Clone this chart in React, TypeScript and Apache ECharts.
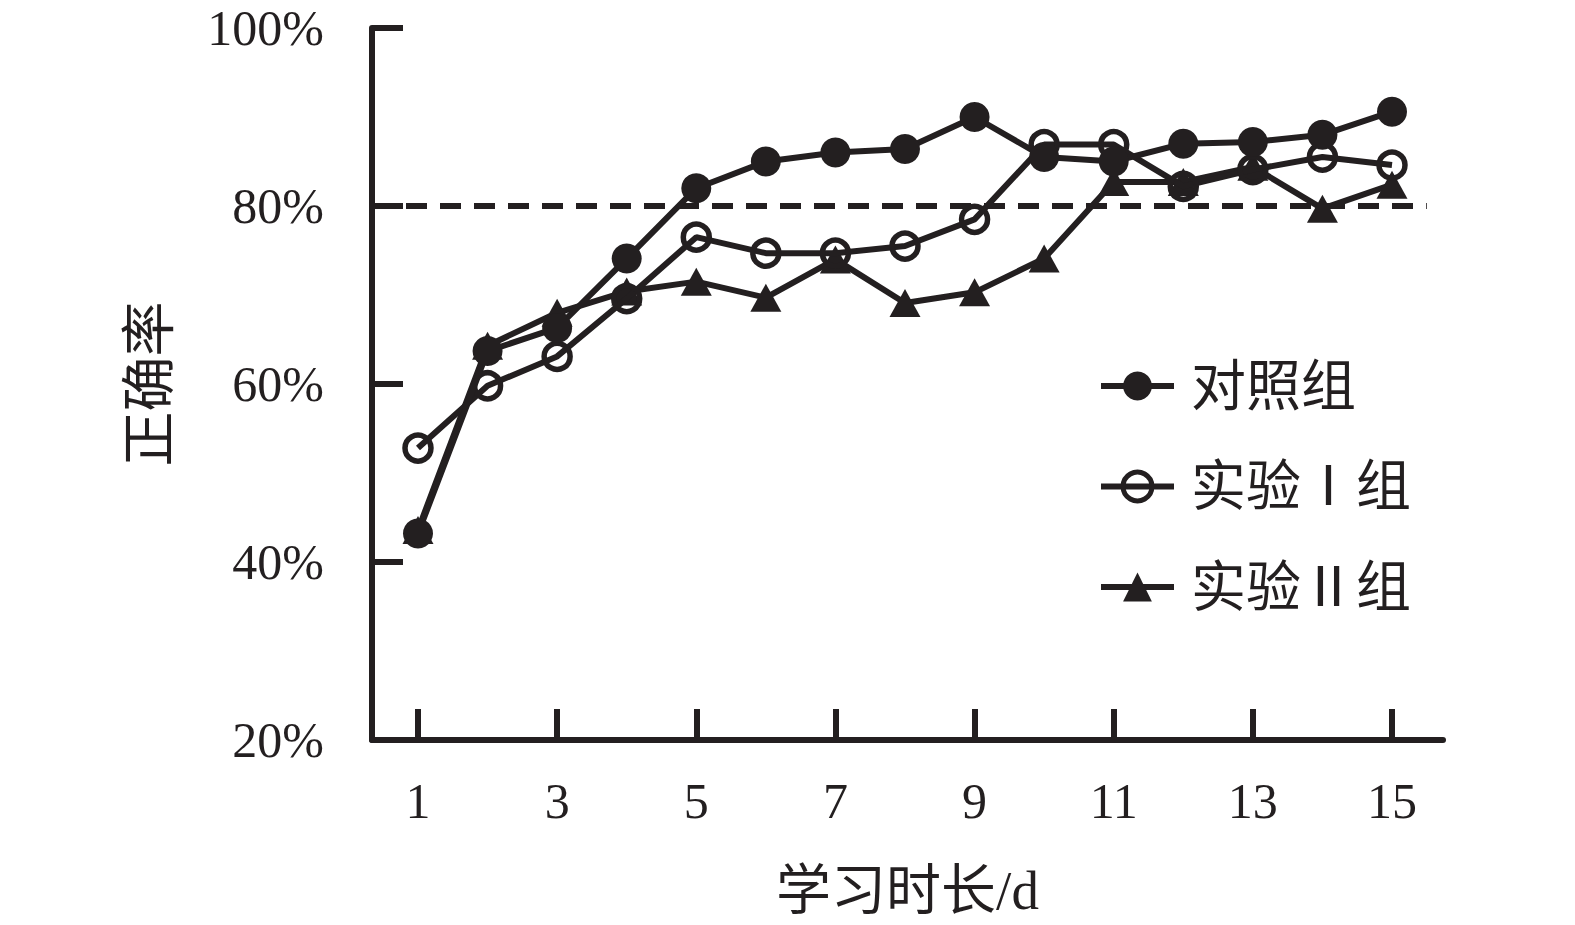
import React, { useEffect, useRef } from "react";
import * as echarts from "echarts";

const days = [1, 2, 3, 4, 5, 6, 7, 8, 9, 10, 11, 12, 13, 14, 15];
const tickDays = [1, 3, 5, 7, 9, 11, 13, 15];
const seriesNames = ["对照组", "实验Ⅰ组", "实验Ⅱ组"];
const control = [43.2, 63.7, 66.3, 74.1, 82.0, 85.0, 86.0, 86.4, 90.0, 85.5, 85.0, 87.0, 87.2, 88.0, 90.6];
const exp1 = [52.8, 59.8, 63.1, 69.6, 76.5, 74.7, 74.7, 75.5, 78.5, 86.9, 86.9, 82.2, 84.1, 85.5, 84.6];
const exp2 = [43.6, 64.3, 68.0, 70.4, 71.5, 69.7, 74.0, 69.1, 70.3, 74.1, 82.7, 82.7, 84.4, 79.7, 82.4];
const threshold = 80;

const INK = "#231f20";
const SERIF = "'Liberation Serif', 'Noto Sans CJK SC', serif";

export default function App() {
  const ref = useRef<HTMLDivElement>(null);
  useEffect(() => {
    if (!ref.current) return;
    const chart = echarts.init(ref.current, null, { renderer: "svg" });
    const toPairs = (arr: number[]) => days.map((d, i) => [d, arr[i]]);
    const lineStyle = { color: INK, width: 6 };
    chart.setOption({
      animation: false,
      backgroundColor: "#ffffff",
      textStyle: { fontFamily: SERIF, color: INK },
      grid: {
        left: 372,
        top: 28,
        right: 132,
        bottom: 185,
        containLabel: false,
        outerBoundsMode: "none",
      },
      legend: {
        orient: "vertical",
        left: 1093,
        top: 353,
        itemWidth: 73,
        itemHeight: 36,
        itemGap: 44.5,
        lineStyle: { width: 6, color: INK },
        data: [
          { name: seriesNames[0], itemStyle: { borderWidth: 0 } },
          { name: seriesNames[1], itemStyle: { borderWidth: 5, borderColor: INK } },
          { name: seriesNames[2], itemStyle: { borderWidth: 0 } },
        ],
        textStyle: {
          fontFamily: SERIF,
          fontSize: 55,
          color: INK,
          lineHeight: 56,
          padding: [0, 0, 0, 12],
        },
      },
      xAxis: {
        type: "value",
        min: 0.339,
        max: 15.733,
        name: "学习时长/d",
        nameLocation: "middle",
        nameGap: 123,
        nameTextStyle: { fontFamily: SERIF, fontSize: 55, color: INK },
        axisLine: { show: true, lineStyle: { color: INK, width: 6 } },
        axisTick: {
          show: true,
          inside: true,
          length: 31,
          lineStyle: { color: INK, width: 6 },
          customValues: tickDays,
        },
        axisLabel: {
          fontFamily: SERIF,
          fontSize: 50,
          color: INK,
          margin: 36,
          customValues: tickDays,
        },
        splitLine: { show: false },
      },
      yAxis: {
        type: "value",
        min: 20,
        max: 100,
        interval: 20,
        name: "正确率",
        nameLocation: "middle",
        nameRotate: 90,
        nameGap: 195,
        nameTextStyle: { fontFamily: SERIF, fontSize: 55, color: INK },
        axisLine: { show: true, lineStyle: { color: INK, width: 6 } },
        axisTick: {
          show: true,
          inside: true,
          length: 31,
          lineStyle: { color: INK, width: 6 },
        },
        axisLabel: {
          fontFamily: SERIF,
          fontSize: 50,
          color: INK,
          margin: 48,
          formatter: "{value}%",
        },
        splitLine: { show: false },
      },
      series: [
        {
          name: seriesNames[2],
          type: "line",
          data: toPairs(exp2),
          symbol: "triangle",
          symbolSize: [31, 28],
          lineStyle,
          itemStyle: { color: INK },
          z: 3,
        },
        {
          name: seriesNames[1],
          type: "line",
          data: toPairs(exp1),
          symbol: "circle",
          symbolSize: 26,
          lineStyle,
          itemStyle: { color: "rgba(255,255,255,0)", borderColor: INK, borderWidth: 5.5 },
          z: 4,
        },
        {
          name: seriesNames[0],
          type: "line",
          data: toPairs(control),
          symbol: "circle",
          symbolSize: 30,
          lineStyle,
          itemStyle: { color: INK },
          z: 5,
          markLine: {
            silent: true,
            symbol: ["none", "none"],
            label: { show: false },
            lineStyle: { color: INK, width: 6, type: [21, 13] },
            data: [
              [
                { coord: [0.339, threshold] },
                { coord: [15.5, threshold] },
              ],
            ],
          },
        },
      ],
    });
    return () => chart.dispose();
  }, []);
  return <div ref={ref} style={{ width: 1575, height: 925, position: "absolute", left: 0, top: 0 }} />;
}
